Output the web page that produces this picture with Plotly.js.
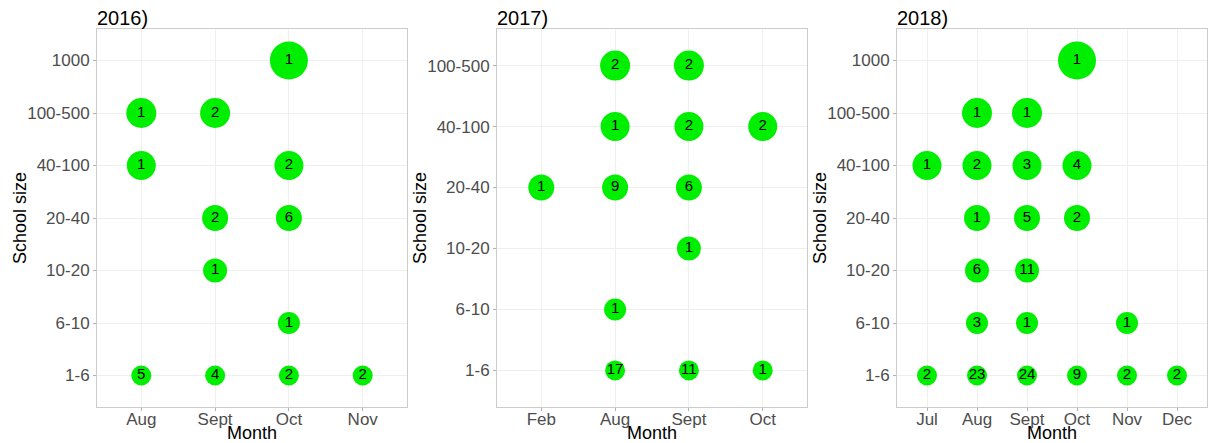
<!DOCTYPE html>
<html>
<head>
<meta charset="utf-8">
<script src="https://cdn.plot.ly/plotly-3.0.1.min.js"></script>
<style>html,body{margin:0;padding:0;background:#fff;}#chart{width:1208px;height:443px;}</style>
</head>
<body>
<div id="chart"></div>
<script>
// ---- Data ----
const panelTitles = ["2016)", "2017)", "2018)"];
const xTitle = "Month";
const yTitle = "School size";

const sizeCats16 = ["1-6", "6-10", "10-20", "20-40", "40-100", "100-500", "1000"];
const sizeCats17 = ["1-6", "6-10", "10-20", "20-40", "40-100", "100-500"];
const sizeCats18 = ["1-6", "6-10", "10-20", "20-40", "40-100", "100-500", "1000"];

const months16 = ["Aug", "Sept", "Oct", "Nov"];
const months17 = ["Feb", "Aug", "Sept", "Oct"];
const months18 = ["Jul", "Aug", "Sept", "Oct", "Nov", "Dec"];

const month16 = ["Oct", "Aug", "Sept", "Aug", "Oct", "Sept", "Oct", "Sept", "Oct", "Aug", "Sept", "Oct", "Nov"];
const size16  = ["1000", "100-500", "100-500", "40-100", "40-100", "20-40", "20-40", "10-20", "6-10", "1-6", "1-6", "1-6", "1-6"];
const count16 = [1, 1, 2, 1, 2, 2, 6, 1, 1, 5, 4, 2, 2];

const month17 = ["Aug", "Sept", "Aug", "Sept", "Oct", "Feb", "Aug", "Sept", "Sept", "Aug", "Aug", "Sept", "Oct"];
const size17  = ["100-500", "100-500", "40-100", "40-100", "40-100", "20-40", "20-40", "20-40", "10-20", "6-10", "1-6", "1-6", "1-6"];
const count17 = [2, 2, 1, 2, 2, 1, 9, 6, 1, 1, 17, 11, 1];

const month18 = ["Oct", "Aug", "Sept", "Jul", "Aug", "Sept", "Oct", "Aug", "Sept", "Oct", "Aug", "Sept", "Aug", "Sept", "Nov", "Jul", "Aug", "Sept", "Oct", "Nov", "Dec"];
const size18  = ["1000", "100-500", "100-500", "40-100", "40-100", "40-100", "40-100", "20-40", "20-40", "20-40", "10-20", "10-20", "6-10", "6-10", "6-10", "1-6", "1-6", "1-6", "1-6", "1-6", "1-6"];
const count18 = [1, 1, 1, 1, 2, 3, 4, 1, 5, 2, 6, 11, 3, 1, 1, 2, 23, 24, 9, 2, 2];

// ---- Style ----
const bubbleDiameter = {"1-6": 20, "6-10": 22, "10-20": 24, "20-40": 26, "40-100": 29, "100-500": 30, "1000": 38};
const GREEN = "#00ee00";
const FONT = "Liberation Sans, Arial, sans-serif";

const panels = [
  {months: months16, cats: sizeCats16, m: month16, s: size16, c: count16, dom: [97/1208, 407/1208]},
  {months: months17, cats: sizeCats17, m: month17, s: size17, c: count17, dom: [497/1208, 807/1208]},
  {months: months18, cats: sizeCats18, m: month18, s: size18, c: count18, dom: [897/1208, 1207/1208]}
];
const yDom = [(443-407)/443, (443-29)/443];

const traces = [];
const layout = {
  width: 1208, height: 443,
  margin: {l: 0, r: 0, t: 0, b: 0},
  paper_bgcolor: "#ffffff", plot_bgcolor: "#ffffff",
  showlegend: false,
  font: {family: FONT},
  annotations: []
};

panels.forEach((p, i) => {
  const sfx = i === 0 ? "" : String(i + 1);
  traces.push({
    type: "scatter", mode: "markers+text",
    x: p.m, y: p.s, text: p.c.map(String),
    xaxis: "x" + sfx, yaxis: "y" + sfx,
    textposition: "middle center",
    textfont: {family: FONT, size: 15, color: "#000000"},
    marker: {color: GREEN, size: p.s.map(v => bubbleDiameter[v]), line: {width: 0}, opacity: 1},
    hoverinfo: "x+y+text", cliponaxis: false
  });
  const axCommon = {
    type: "category",
    showgrid: true, gridcolor: "#efefef", gridwidth: 1,
    showline: true, linecolor: "#cccccc", linewidth: 1, mirror: true,
    ticks: "outside", ticklen: 3, tickcolor: "#b3b3b3", tickwidth: 1,
    tickfont: {family: FONT, size: 17, color: "#4d4d4d"},
    zeroline: false, fixedrange: true
  };
  layout["xaxis" + sfx] = Object.assign({}, axCommon, {
    domain: p.dom, anchor: "y" + sfx,
    categoryorder: "array", categoryarray: p.months,
    range: [-0.6, p.months.length - 0.4],
    ticklabelstandoff: -6,
    title: {text: xTitle, font: {family: FONT, size: 18, color: "#000000"}, standoff: 0}
  });
  layout["yaxis" + sfx] = Object.assign({}, axCommon, {
    domain: yDom, anchor: "x" + sfx,
    categoryorder: "array", categoryarray: p.cats,
    range: [-0.6, p.cats.length - 0.4]
  });
  layout.annotations.push({
    text: yTitle, xref: "paper", yref: "paper",
    x: p.dom[0], y: (yDom[0] + yDom[1]) / 2, xanchor: "center", yanchor: "middle",
    xshift: -77, textangle: -90, showarrow: false,
    font: {family: FONT, size: 18, color: "#000000"}
  });
  layout.annotations.push({
    text: panelTitles[i], xref: "paper", yref: "paper",
    x: p.dom[0], y: yDom[1], xanchor: "left", yanchor: "bottom",
    showarrow: false, yshift: -2, xshift: -2,
    font: {family: FONT, size: 20, color: "#000000"}
  });
});

Plotly.newPlot("chart", traces, layout, {displayModeBar: false, staticPlot: true});
</script>
</body>
</html>
